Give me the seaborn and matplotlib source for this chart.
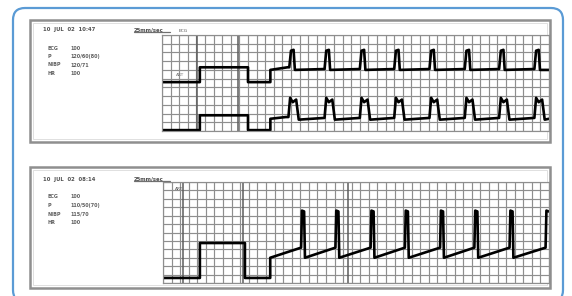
import numpy as np
import pandas as pd
import seaborn as sns
import matplotlib.pyplot as plt
from matplotlib.patches import FancyBboxPatch, Rectangle

# ---------------------------------------------------------------
# Trace data (x and y in grid cells)
# ---------------------------------------------------------------
# strip 1, upper trace (ECG style spikes after the calibration step)
top1_x = [0, 4.4, 4.4, 10.0, 10.0, 12.6, 12.6, 14.6,
          14.8, 15.0, 15.3, 15.45,
          18.9, 19.1, 19.4, 19.55,
          23.0, 23.2, 23.5, 23.65,
          27.0, 27.2, 27.5, 27.65,
          31.1, 31.3, 31.6, 31.75,
          35.2, 35.4, 35.7, 35.85,
          39.2, 39.4, 39.7, 39.85,
          43.3, 43.5, 43.8, 43.95, 45]
top1_y = [5.6, 5.6, 7.3, 7.3, 5.6, 5.6, 7.0, 7.3,
          7.3, 9.2, 9.3, 7.0,
          7.1, 9.2, 9.3, 7.0,
          7.1, 9.2, 9.3, 7.0,
          7.1, 9.2, 9.3, 7.0,
          7.1, 9.2, 9.3, 7.0,
          7.1, 9.2, 9.3, 7.0,
          7.1, 9.2, 9.3, 7.0,
          7.1, 9.2, 9.3, 7.0, 7.0]

# strip 1, lower trace (double humped pressure wave)
bot1_x = [0, 4.4, 4.4, 10.0, 10.0, 12.6, 12.6, 14.4,
          14.7, 14.9, 15.2, 15.6, 15.9,
          18.9, 19.1, 19.4, 19.8, 20.1,
          23.0, 23.2, 23.5, 23.9, 24.2,
          27.0, 27.2, 27.5, 27.9, 28.2,
          31.1, 31.3, 31.6, 32.0, 32.3,
          35.2, 35.4, 35.7, 36.1, 36.4,
          39.2, 39.4, 39.7, 40.1, 40.4,
          43.3, 43.5, 43.8, 44.2, 44.5, 45]
bot1_y = [0.1, 0.1, 1.8, 1.8, 0.1, 0.1, 1.4, 1.6,
          1.6, 3.8, 3.3, 3.6, 1.3,
          1.5, 3.8, 3.3, 3.6, 1.3,
          1.5, 3.8, 3.3, 3.6, 1.3,
          1.5, 3.8, 3.3, 3.6, 1.3,
          1.5, 3.8, 3.3, 3.6, 1.3,
          1.5, 3.8, 3.3, 3.6, 1.3,
          1.5, 3.8, 3.3, 3.6, 1.3,
          1.5, 3.8, 3.3, 3.6, 1.3, 1.4]

# strip 2, single trace (sawtooth with tall spikes)
trace2_x = [0, 4.3, 4.3, 9.55, 9.55, 12.5, 12.5,
            16.1, 16.2, 16.45, 16.55,
            20.1, 20.2, 20.45, 20.55,
            24.2, 24.3, 24.55, 24.65,
            28.2, 28.3, 28.55, 28.65,
            32.3, 32.4, 32.65, 32.75,
            36.3, 36.4, 36.65, 36.75,
            40.4, 40.5, 40.75, 40.85,
            44.6, 44.7, 44.95]
trace2_y = [0.6, 0.6, 4.75, 4.75, 0.6, 0.6, 3.0,
            4.2, 8.6, 8.5, 3.0,
            4.2, 8.6, 8.5, 3.0,
            4.2, 8.6, 8.5, 3.0,
            4.2, 8.6, 8.5, 3.0,
            4.2, 8.6, 8.5, 3.0,
            4.2, 8.6, 8.5, 3.0,
            4.2, 8.6, 8.5, 3.0,
            4.2, 8.6, 8.5]

# header texts of the two printouts
header1 = ["10  JUL  02  10:47", "25mm/sec"]
header2 = ["10  JUL  02  08:14", "25mm/sec"]
params1 = [("ECG", "100"), ("P", "120/60(80)"), ("NIBP", "120/71"), ("HR", "100")]
params2 = [("ECG", "100"), ("P", "110/50(70)"), ("NIBP", "115/70"), ("HR", "100")]

sns.set_style("white")

W, H = 572, 296
fig = plt.figure(figsize=(W / 100, H / 100), dpi=100)

# background axes in pixel units for the frames and text
bg = fig.add_axes([0, 0, 1, 1])
bg.set_xlim(0, W)
bg.set_ylim(H, 0)
bg.axis("off")

bg.add_patch(FancyBboxPatch((13, 8), 550, 294, boxstyle="round,pad=0,rounding_size=12",
                            fc="white", ec="#5b9bd5", lw=1.6))
for top, bottom in [(20, 142), (167, 288)]:
    bg.add_patch(Rectangle((30, top), 520, bottom - top, fc="white", ec="#8f8f8f", lw=1.8))
    bg.add_patch(Rectangle((33, top + 3), 514, bottom - top - 6, fc="none", ec="#dadada", lw=0.6))


def draw_header(y0, header, params):
    bg.text(43, y0, header[0], fontsize=3.8, color="#505050", va="center", weight="bold")
    bg.text(134, y0, header[1], fontsize=3.8, color="#505050", va="center", weight="bold")
    bg.plot([134, 170], [y0 + 2, y0 + 2], color="#707070", lw=0.9)
    for i, (name, val) in enumerate(params):
        yy = y0 + 18 + i * 8.5
        bg.text(47, yy, name, fontsize=3.5, color="#606060", va="center", weight="bold")
        bg.text(70, yy, val, fontsize=3.5, color="#606060", va="center", weight="bold")


draw_header(30, header1, params1)
draw_header(179, header2, params2)


def strip(rect, nrows, traces, dark):
    ax = fig.add_axes(rect)
    for xs, ys in traces:
        df = pd.DataFrame({"x": xs, "y": ys})
        sns.lineplot(data=df, x="x", y="y", sort=False, estimator=None,
                     color="black", lw=1.9, ax=ax)
    ax.set_xlim(0, 45)
    ax.set_ylim(0, nrows)
    ax.set_xticks(np.arange(0, 46, 1))
    ax.set_yticks(np.arange(0, nrows + 1, 1))
    ax.grid(True, color="#8e8e8e", lw=0.85)
    for d in dark:
        ax.axvline(d, color="#5c5c5c", lw=1.1, zorder=1)
    ax.tick_params(length=0, labelbottom=False, labelleft=False)
    ax.set_xlabel("")
    ax.set_ylabel("")
    for s in ax.spines.values():
        s.set_color("#8e8e8e")
        s.set_linewidth(0.85)
    return ax


ax1 = strip([162 / W, 1 - 131 / H, 387 / W, 96 / H], 11,
            [(top1_x, top1_y), (bot1_x, bot1_y)], [4.1, 8.8])
ax1.text(1.9, 11.2, "ECG", fontsize=3.2, color="#555555", va="bottom")
ax1.text(1.6, 6.3, "ART", fontsize=3.2, color="#777777")

ax2 = strip([163 / W, 1 - 283 / H, 386 / W, 101 / H], 12,
            [(trace2_x, trace2_y)], [2.3, 9.3, 21.6])
ax2.text(1.4, 11.0, "ART", fontsize=3.2, color="#555555")

fig.savefig("out.png", dpi=100)
